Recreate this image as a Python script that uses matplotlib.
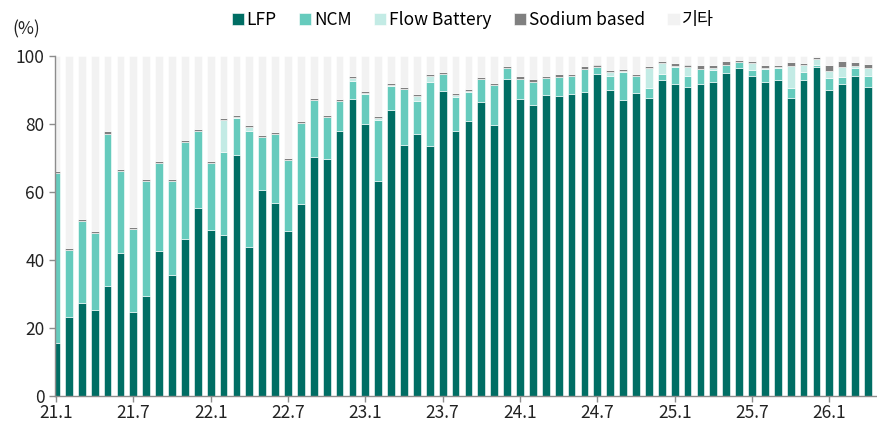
import matplotlib
matplotlib.use("Agg")
import matplotlib.pyplot as plt
import numpy as np

plt.rcParams['font.family'] = ['Noto Sans CJK KR', 'DejaVu Sans']
plt.rcParams['font.weight'] = 'light'

months = [f"{y}.{m}" for y in range(21, 27) for m in range(1, 13)][:64]
tick_labels = ["21.1", "21.7", "22.1", "22.7", "23.1", "23.7", "24.1", "24.7", "25.1", "25.7", "26.1"]

lfp = [15.5, 23.3, 27.4, 25.4, 32.5, 42.0, 24.7, 29.3, 42.6, 35.5, 46.2, 55.2, 48.8, 47.4, 71.0, 43.8,
       60.5, 56.8, 48.4, 56.4, 70.2, 69.8, 77.9, 87.4, 80.1, 63.3, 84.0, 73.9, 77.1, 73.5, 89.8, 77.9,
       80.8, 86.4, 79.8, 93.3, 87.5, 85.5, 88.5, 88.1, 88.7, 89.3, 94.6, 90.0, 87.0, 89.2, 87.7, 92.9,
       91.9, 90.8, 91.7, 92.4, 95.1, 96.4, 94.0, 92.5, 92.9, 87.7, 92.9, 96.7, 89.9, 91.7, 94.0, 91.0]
ncm = [50.0, 19.6, 24.2, 22.4, 44.7, 24.3, 24.4, 34.0, 26.0, 27.7, 28.4, 22.7, 19.8, 24.3, 10.8, 34.2,
       15.6, 20.3, 20.9, 23.8, 16.8, 12.3, 8.8, 5.3, 8.7, 17.9, 7.2, 16.4, 9.6, 19.0, 4.8, 10.0,
       8.6, 6.7, 11.6, 3.2, 5.8, 7.0, 5.0, 5.8, 5.4, 6.9, 2.2, 4.0, 8.3, 4.8, 3.0, 1.7,
       5.0, 3.2, 4.5, 3.5, 2.3, 1.7, 1.9, 3.6, 3.5, 2.8, 2.4, 0.7, 3.5, 2.0, 2.6, 3.1]
flow = [0, 0, 0, 0, 0, 0, 0, 0, 0, 0, 0, 0, 0, 9.6, 0.3, 1.1,
        0, 0, 0, 0, 0, 0, 0, 0.9, 0.3, 0.6, 0.4, 0, 1.5, 1.6, 0, 0.5,
        0.3, 0, 0, 0, 0, 0, 0, 0, 0, 0, 0, 1.2, 0.2, 0, 5.7, 3.4,
        0.2, 2.9, 0, 0.6, 0, 0, 1.9, 0.5, 0.3, 6.6, 2.0, 1.8, 2.2, 3.2, 0.5, 2.4]
sodium = [0.6] * 35 + [0.6, 0.7, 0.7, 0.7, 0.7, 0.7, 1.0, 0.7, 0.6, 0.6, 0.7, 0.7, 0.5,
                       0.7, 0.6, 1.3, 0.9, 1.2, 0.7, 0.6, 0.8, 0.8, 1.0, 0.7, 0.6, 1.8, 1.5, 1.2, 1.1]

lfp, ncm, flow, sodium = map(np.array, (lfp, ncm, flow, sodium))
etc = 100 - (lfp + ncm + flow + sodium)

series = [("LFP", lfp, "#006e64"), ("NCM", ncm, "#66cbbd"), ("Flow Battery", flow, "#c3ebe5"),
          ("Sodium based", sodium, "#808080"), ("기타", etc, "#f2f2f2")]

fig = plt.figure(figsize=(8.77, 4.26), dpi=100)
ax = fig.add_axes([55 / 877, 30 / 426, 822 / 877, 340 / 426])
x = np.arange(len(months))
bottom = np.zeros(len(months))
for name, vals, col in series:
    ax.bar(x, vals, bottom=bottom, width=0.6, color=col, edgecolor="white", linewidth=0.4, label=name)
    bottom += vals

ax.set_xlim(-0.08, 63.7)
ax.set_ylim(0, 100)
ax.set_yticks(range(0, 101, 20))
tpos = [months.index(t) for t in tick_labels]
ax.set_xticks(tpos)
ax.set_xticklabels(tick_labels)
for s in ("top", "right"):
    ax.spines[s].set_visible(False)
for s in ("left", "bottom"):
    ax.spines[s].set_color("#8c8c8c")
    ax.spines[s].set_linewidth(1.0)
ax.tick_params(axis="both", colors="#8c8c8c", labelcolor="#222222", labelsize=12.5, length=4, width=1)
ax.tick_params(axis="x", pad=2)

fig.text(12 / 877, 1 - 29 / 426, "(%)", fontsize=12.5, color="#222222", va="center", ha="left")
fig.legend(loc="center", bbox_to_anchor=(473 / 877, 1 - 20 / 426), ncol=5, frameon=False,
           fontsize=12.5, handlelength=0.7, handleheight=0.7, handletextpad=0.15, columnspacing=1.3)

fig.savefig("out.png", dpi=100)
